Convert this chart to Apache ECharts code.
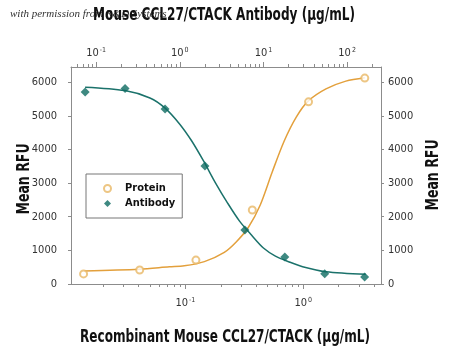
<!DOCTYPE html>
<html>
<head>
<meta charset="utf-8">
<script src="https://cdn.jsdelivr.net/npm/echarts@6/dist/echarts.min.js"></script>
<style>
  html, body { margin: 0; padding: 0; background: #fff; }
  #chart { width: 450px; height: 350px; }
</style>
</head>
<body>
<div id="chart"></div>
<script>
// measured points (µg/mL, RFU)
const proteinConc = [0.0137, 0.041, 0.123, 0.37, 1.11, 3.33];
const proteinRfu = [300, 415, 710, 2200, 5415, 6120];
const antibodyConc = [0.074, 0.222, 0.667, 2, 6, 18, 54, 162];
const antibodyRfu = [5710, 5810, 5205, 3505, 1605, 805, 305, 205];

// fitted curves
const proteinFitConc = [0.0139, 0.0407, 0.0732, 0.098, 0.145, 0.214, 0.27, 0.342, 0.432, 0.546, 0.69, 0.873, 1.1, 1.56, 2.3, 3.33];
const proteinFitRfu = [390, 440, 510, 540, 665, 940, 1250, 1680, 2350, 3330, 4250, 4960, 5435, 5800, 6030, 6130];
const antibodyFitConc = [0.0739, 0.221, 0.44, 0.663, 1.0, 1.39, 1.93, 2.68, 3.73, 5.18, 7.19, 10.0, 13.9, 20.4, 29.4, 55.7, 167];
const antibodyFitRfu = [5850, 5750, 5530, 5235, 4750, 4250, 3650, 3000, 2405, 1870, 1455, 1070, 830, 655, 515, 365, 290];

// decade exponents that carry labels
const bottomDecades = [-1, 0];
const topDecades = [-1, 0, 1, 2];

const FONT = '"DejaVu Sans Condensed", "Liberation Sans Narrow", sans-serif';
const ORANGE = '#e3a03c';
const TEAL = '#1b726b';
const AXIS_GREY = '#8c8c8c';

// x axes work in log10 space
const bottomRange = [-1.97, 0.66];
const topRange = [-1.30, 2.405];

const pairs = (xs, ys) => xs.map((x, i) => [Math.log10(x), ys[i]]);

function logTicks(lo, hi) {
	const out = [];
	for (let d = Math.floor(lo); d <= Math.ceil(hi); d++) {
		for (let k = 1; k < 10; k++) {
			const v = d + Math.log10(k);
			if (v >= lo && v <= hi) out.push(v);
		}
	}
	return out;
}

const powLabel = {
	formatter: (v) => '{b|10}{s|' + Math.round(v) + '}',
	rich: {
		b: { fontSize: 11, color: '#333', fontFamily: FONT, verticalAlign: 'bottom' },
		s: { fontSize: 7, color: '#333', fontFamily: FONT, verticalAlign: 'bottom', padding: [0, 0, 5, 1] },
	},
};

function xAxisMain(position, range, decades, margin) {
	return {
		type: 'value',
		position,
		min: range[0],
		max: range[1],
		splitLine: { show: false },
		axisLine: { show: true, onZero: false, lineStyle: { color: AXIS_GREY, width: 1 } },
		axisTick: { show: true, length: 3, customValues: logTicks(range[0], range[1]), lineStyle: { color: AXIS_GREY } },
		axisLabel: Object.assign({ show: true, margin, customValues: decades }, powLabel),
	};
}

function xAxisMajor(position, range, decades) {
	return {
		type: 'value',
		position,
		min: range[0],
		max: range[1],
		splitLine: { show: false },
		axisLine: { show: false, onZero: false },
		axisLabel: { show: false },
		axisTick: { show: true, length: 5, customValues: decades, lineStyle: { color: AXIS_GREY } },
	};
}

function yAxis(position, margin) {
	return {
		type: 'value',
		position,
		min: 0,
		max: 6450,
		interval: 1000,
		splitLine: { show: false },
		axisLine: { show: true, onZero: false, lineStyle: { color: AXIS_GREY, width: 1 } },
		axisTick: { show: true, length: 3, lineStyle: { color: AXIS_GREY } },
		axisLabel: {
			margin,
			showMaxLabel: false,
			formatter: (v) => String(v),
			fontFamily: FONT,
			fontSize: 11,
			color: '#333',
		},
	};
}

// big condensed titles, squeezed sideways to match the narrow face
function bigText(text, x, y, rotation, scaleX) {
	return {
		type: 'text',
		x,
		y,
		rotation,
		scaleX,
		style: {
			text,
			font: 'bold 17px ' + FONT,
			fill: '#111',
			align: 'center',
			verticalAlign: 'middle',
		},
	};
}

const chart = echarts.init(document.getElementById('chart'));

chart.setOption({
	animation: false,
	backgroundColor: '#fff',
	grid: { left: 71, right: 69, top: 67, bottom: 66, containLabel: false, outerBoundsMode: 'none' },
	graphic: [
		{
			type: 'text',
			left: 10,
			top: 9,
			z: -10,
			style: {
				text: 'with permission from R&D Systems',
				font: 'italic 11px "Liberation Serif", "DejaVu Serif", serif',
				fill: '#333',
			},
		},
		bigText('Mouse CCL27/CTACK Antibody (μg/mL)', 224, 16, 0, 0.79),
		bigText('Recombinant Mouse CCL27/CTACK (μg/mL)', 225, 338, 0, 0.79),
		bigText('Mean RFU', 25, 179, Math.PI / 2, 0.82),
		bigText('Mean RFU', 434, 175, Math.PI / 2, 0.82),
	],
	legend: {
		data: ['Protein', 'Antibody'],
		orient: 'vertical',
		left: 86,
		top: 174,
		itemWidth: 7,
		itemHeight: 7,
		itemGap: 4,
		padding: [9, 7, 9, 17],
		borderColor: '#777',
		borderWidth: 1,
		textStyle: { fontFamily: FONT, fontSize: 11, fontWeight: 'bold', color: '#111', padding: [0, 0, 0, 9] },
	},
	xAxis: [
		xAxisMain('bottom', bottomRange, bottomDecades, 13),
		xAxisMain('top', topRange, topDecades, 8),
		xAxisMajor('bottom', bottomRange, bottomDecades),
		xAxisMajor('top', topRange, topDecades),
	],
	yAxis: [yAxis('left', 14), yAxis('right', 7)],
	series: [
		{
			name: 'Protein fit',
			type: 'line',
			xAxisIndex: 0,
			smooth: 0.3,
			showSymbol: false,
			lineStyle: { color: ORANGE, width: 1.5 },
			data: pairs(proteinFitConc, proteinFitRfu),
		},
		{
			name: 'Antibody fit',
			type: 'line',
			xAxisIndex: 1,
			smooth: 0.3,
			showSymbol: false,
			lineStyle: { color: TEAL, width: 1.5 },
			data: pairs(antibodyFitConc, antibodyFitRfu),
		},
		{
			name: 'Protein',
			type: 'scatter',
			xAxisIndex: 0,
			symbol: 'emptyCircle',
			symbolSize: 7,
			itemStyle: { color: '#e8b865', borderWidth: 1 },
			data: pairs(proteinConc, proteinRfu),
			z: 3,
		},
		{
			name: 'Antibody',
			type: 'scatter',
			xAxisIndex: 1,
			symbol: 'diamond',
			symbolSize: 9,
			itemStyle: { color: '#0e6b62' },
			data: pairs(antibodyConc, antibodyRfu),
			z: 3,
		},
	],
});
</script>
</body>
</html>
